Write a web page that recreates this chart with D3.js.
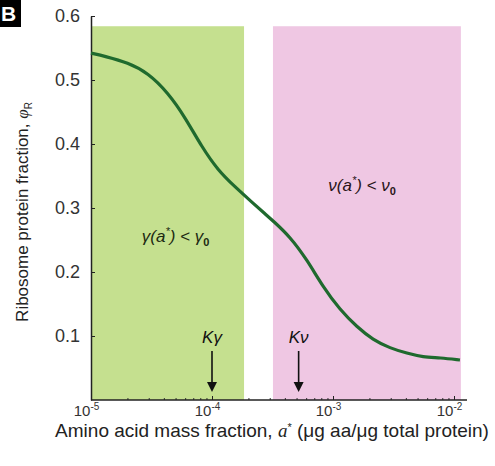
<!DOCTYPE html>
<html>
<head>
<meta charset="utf-8">
<script src="https://cdn.jsdelivr.net/npm/d3@7"></script>
<style>
  body { margin: 0; background: #fff; }
  svg { display: block; }
  text { font-family: "Liberation Sans", Arial, sans-serif; }
</style>
</head>
<body>
<svg id="chart" width="495" height="466"></svg>
<script>
// amino acid mass fraction a* (log axis) and ribosome fraction phi_R
const aminoFrac = [1e-5, 1.31e-5, 2.02e-5, 2.96e-5, 4.33e-5, 5.98e-5, 8.26e-5, 1.12e-4,
  1.55e-4, 2.14e-4, 2.74e-4, 3.19e-4, 4.42e-4, 6.10e-4, 8.26e-4, 1.14e-3, 1.58e-3,
  2.14e-3, 2.96e-3, 4.09e-3, 5.55e-3, 7.66e-3, 1.12e-2];
const phiR = [0.542, 0.537, 0.527, 0.511, 0.480, 0.442, 0.395, 0.359, 0.333, 0.309,
  0.291, 0.280, 0.255, 0.219, 0.177, 0.141, 0.114, 0.094, 0.081, 0.073, 0.067, 0.066, 0.0625];

// shaded regimes
const regionStart = [1e-5, 3.19e-4];
const regionEnd = [1.84e-4, 1.14e-2];
const regionTop = [0.584, 0.584];

// K markers
const kLabels = ["K\u03b3", "K\u03bd"];
const kValues = [1e-4, 5.2e-4];

const xTicks = [1e-5, 1e-4, 1e-3, 1e-2];
const xTickExp = ["-5", "-4", "-3", "-2"];
const yTicks = [0.1, 0.2, 0.3, 0.4, 0.5, 0.6];

const svg = d3.select("#chart");

let x = d3.scaleLog().domain([1e-5, 1e-2]).range([91, 454]);
let y = d3.scaleLinear().domain([0, 0.6]).range([400, 16]);

// regions
const regionFill = ["#c5e08f", "#efc7e3"];
svg.selectAll("rect.region")
  .data(regionStart)
  .enter()
  .append("rect")
  .attr("class", "region")
  .attr("x", (d, i) => x(d))
  .attr("y", (d, i) => y(regionTop[i]))
  .attr("width", (d, i) => x(regionEnd[i]) - x(d))
  .attr("height", (d, i) => y(0) - y(regionTop[i]))
  .attr("fill", (d, i) => regionFill[i]);

// x axis: major + minor ticks pointing inward
let minor = [];
for (let e = -5; e < -2; e++) {
  for (let m = 2; m <= 9; m++) minor.push(m * Math.pow(10, e));
}
svg.append("g")
  .attr("transform", "translate(0," + y(0) + ")")
  .call(d3.axisBottom(x).tickValues(minor).tickSize(-2).tickSizeOuter(0).tickFormat(""))
  .call(g => g.select(".domain").remove())
  .selectAll("line").attr("stroke", "#333");

let xAxis = svg.append("g")
  .attr("transform", "translate(0," + y(0) + ")")
  .call(d3.axisBottom(x).tickValues(xTicks).tickSize(-4).tickSizeOuter(0)
    .tickPadding(5).tickFormat(""));
xAxis.select(".domain").attr("stroke", "#222").attr("stroke-width", 1.5)
  .attr("d", "M" + x(1e-5) + ",0H467");
xAxis.selectAll("line").attr("stroke", "#222");
xAxis.selectAll(".tick text")
  .attr("fill", "#333")
  .attr("font-size", 15)
  .attr("dx", -5)
  .attr("dy", "0.71em")
  .each(function(d, i) {
    let t = d3.select(this);
    t.append("tspan").text("10");
    t.append("tspan").text(xTickExp[i]).attr("font-size", 10).attr("dy", -6);
  });

// y axis
let yAxis = svg.append("g")
  .attr("transform", "translate(" + x(1e-5) + ",0)")
  .call(d3.axisLeft(y).tickValues(yTicks).tickSize(-4).tickSizeOuter(0)
    .tickPadding(11).tickFormat(d3.format(".1f")));
yAxis.select(".domain").attr("stroke", "#222").attr("stroke-width", 1.5);
yAxis.selectAll("line").attr("stroke", "#222");
yAxis.selectAll("text").attr("fill", "#333").attr("font-size", 18);

// curve
let line = d3.line()
  .x((d, i) => x(aminoFrac[i]))
  .y(d => y(d))
  .curve(d3.curveBasis);
svg.append("path")
  .datum(phiR)
  .attr("d", line)
  .attr("fill", "none")
  .attr("stroke", "#1f6a2e")
  .attr("stroke-width", 3.2);

// K arrows
kValues.forEach(function(k, i) {
  let g = svg.append("g").attr("transform", "translate(" + x(k) + ",0)");
  g.append("text")
    .attr("y", 343)
    .attr("text-anchor", "middle")
    .attr("font-family", "Liberation Serif, serif")
    .attr("font-style", "italic")
    .attr("font-size", 17)
    .attr("fill", "#111")
    .text(kLabels[i]);
  g.append("line")
    .attr("y1", 351).attr("y2", 384)
    .attr("stroke", "#111").attr("stroke-width", 1.6);
  g.append("path")
    .attr("d", "M-5,382L5,382L0,392Z")
    .attr("fill", "#111");
});

// regime annotations
function regime(sym, ax, ay, col) {
  let t = svg.append("text")
    .attr("x", x(ax)).attr("y", y(ay))
    .attr("text-anchor", "middle")
    .attr("font-family", "Liberation Serif, serif")
    .attr("font-style", "italic")
    .attr("font-size", 17)
    .attr("fill", col);
  t.append("tspan").text(sym + "(");
  t.append("tspan").text("a");
  t.append("tspan").text("*").attr("font-size", 11).attr("dy", -7);
  t.append("tspan").text(") < " + sym).attr("dy", 7);
  t.append("tspan").text("0").attr("font-size", 11).attr("dy", 4)
    .attr("font-style", "normal").attr("font-weight", "bold")
    .attr("font-family", "Liberation Sans, sans-serif");
}
regime("\u03b3", 5.0e-5, 0.247, "#1c2a12");
regime("\u03bd", 1.74e-3, 0.327, "#2a1418");

// axis titles
let xt = svg.append("text")
  .attr("x", 272).attr("y", 437)
  .attr("text-anchor", "middle")
  .attr("font-size", 19)
  .attr("fill", "#222");
xt.append("tspan").text("Amino acid mass fraction, ");
xt.append("tspan").text("a").attr("font-family", "Liberation Serif, serif").attr("font-style", "italic");
xt.append("tspan").text("*").attr("font-size", 11).attr("dy", -6);
xt.append("tspan").text(" (\u03bcg aa/\u03bcg total protein)").attr("dy", 6);

let yt = svg.append("text")
  .attr("transform", "translate(28,212) rotate(-90)")
  .attr("text-anchor", "middle")
  .attr("font-size", 17)
  .attr("fill", "#222");
yt.append("tspan").text("Ribosome protein fraction, ");
yt.append("tspan").text("\u03c6").attr("font-family", "Liberation Serif, serif").attr("font-style", "italic");
yt.append("tspan").text("R").attr("font-size", 10).attr("dy", 4);

// panel tag
svg.append("rect").attr("x", 0).attr("y", 0).attr("width", 21).attr("height", 27).attr("fill", "#000");
svg.append("text").attr("x", 1).attr("y", 21)
  .attr("font-size", 21).attr("font-weight", "bold").attr("fill", "#fff").text("B");
</script>
</body>
</html>
